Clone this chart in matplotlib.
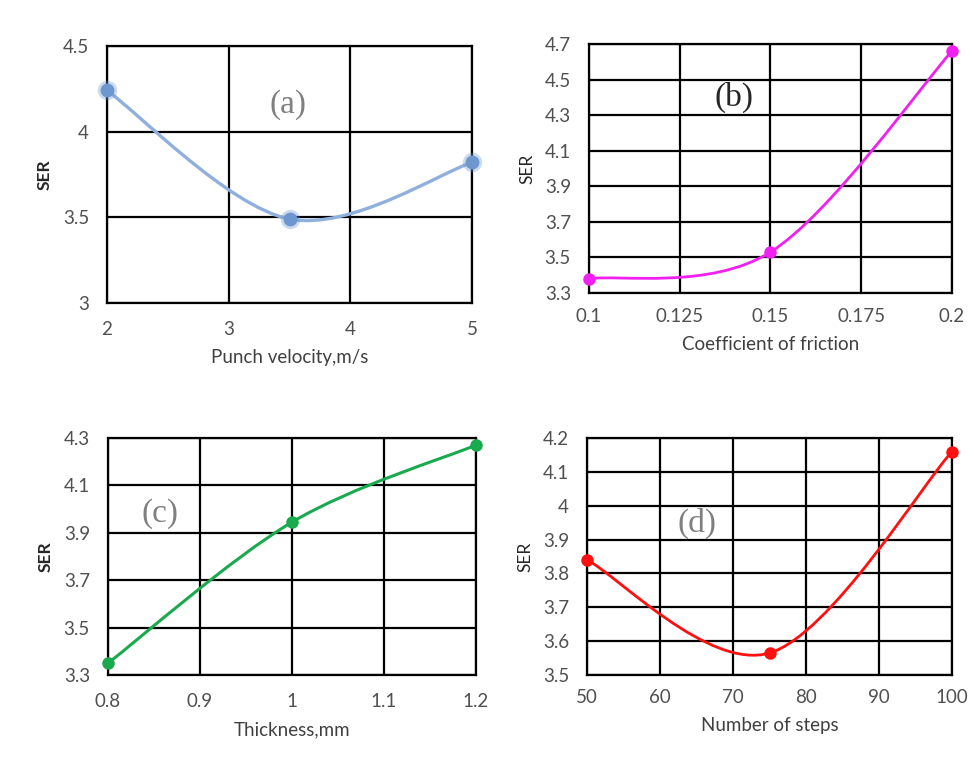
import matplotlib
matplotlib.use("Agg")
import matplotlib.pyplot as plt
from matplotlib.path import Path
from matplotlib.patches import PathPatch
import numpy as np

# ---- data ----
velocity = [2, 3.5, 5]
ser_velocity = [4.24, 3.49, 3.82]

friction = [0.1, 0.15, 0.2]
ser_friction = [3.38, 3.53, 4.66]

thickness = [0.8, 1.0, 1.2]
ser_thickness = [3.35, 3.945, 4.27]

steps = [50, 75, 100]
ser_steps = [3.84, 3.565, 4.16]

plt.rcParams["font.family"] = ["Lato", "DejaVu Sans"]

TICK_COLOR = "#505050"


def smooth_path(xs, ys):
    """Catmull-Rom style cubic Bezier through the points (spreadsheet 'smoothed line')."""
    pts = np.column_stack([xs, ys]).astype(float)
    n = len(pts)
    verts = [pts[0]]
    codes = [Path.MOVETO]
    for i in range(n - 1):
        p_prev = pts[i - 1] if i > 0 else pts[i]
        p0, p1 = pts[i], pts[i + 1]
        p_next = pts[i + 2] if i + 2 < n else pts[i + 1]
        c1 = p0 + (p1 - p_prev) / 6.0
        c2 = p1 - (p_next - p0) / 6.0
        verts += [c1, c2, p1]
        codes += [Path.CURVE4] * 3
    return Path(verts, codes)


def panel(rect, xs, ys, xlim, xticks, xticklabels, ylim, yticks, yticklabels,
          xlabel, tag, tag_xy, tag_color, color, lw, ms, marker_color,
          ylabel_bold=True, halo=False, xpad=10, xlabelpad=8):
    ax = fig.add_axes(rect)
    ax.set_xlim(*xlim)
    ax.set_ylim(*ylim)
    ax.set_xticks(xticks)
    ax.set_xticklabels(xticklabels)
    ax.set_yticks(yticks)
    ax.set_yticklabels(yticklabels)
    ax.grid(True, color="black", linewidth=1.6)
    ax.set_axisbelow(True)
    for s in ax.spines.values():
        s.set_color("black")
        s.set_linewidth(1.6)
    ax.tick_params(length=0, labelsize=13.5, colors=TICK_COLOR, pad=xpad)
    ax.tick_params(axis="y", pad=13)
    ax.add_patch(PathPatch(smooth_path(xs, ys), facecolor="none",
                           edgecolor=color, linewidth=lw, zorder=3,
                           capstyle="round", joinstyle="round"))
    if halo:
        ax.plot(xs, ys, "o", ms=ms + 4, color=marker_color, alpha=0.35,
                mec="none", zorder=4, clip_on=False)
    ax.plot(xs, ys, "o", ms=ms, color=marker_color, mec="none", zorder=5,
            clip_on=False)
    ax.set_xlabel(xlabel, fontsize=13.5, color="#404040", labelpad=xlabelpad)
    ax.set_ylabel("SER", fontsize=12.5, color="#262626",
                  fontweight="bold" if ylabel_bold else "normal", labelpad=7)
    ax.text(tag_xy[0], tag_xy[1], tag, transform=ax.transAxes,
            fontsize=24, color=tag_color, ha="center", va="center",
            family=["Liberation Serif", "DejaVu Serif"])
    return ax


fig = plt.figure(figsize=(9.74, 7.62), dpi=100)

panel([0.1099, 0.6024, 0.3747, 0.3373], velocity, ser_velocity,
      (2, 5), [2, 3, 4, 5], ["2", "3", "4", "5"],
      (3, 4.5), [3, 3.5, 4, 4.5], ["3", "3.5", "4", "4.5"],
      "Punch velocity,m/s", "(a)", (0.495, 0.77), "#808080",
      "#8FB0DC", 2.4, 10, "#6F97CF", halo=True, xpad=13)

panel([0.6047, 0.6155, 0.3727, 0.3268], friction, ser_friction,
      (0.1, 0.2), [0.1, 0.125, 0.15, 0.175, 0.2],
      ["0.1", "0.125", "0.15", "0.175", "0.2"],
      (3.3, 4.7), np.arange(3.3, 4.71, 0.2),
      ["3.3", "3.5", "3.7", "3.9", "4.1", "4.3", "4.5", "4.7"],
      "Coefficient of friction", "(b)", (0.4, 0.785), "#262626",
      "#F020F0", 2.0, 9, "#F020F0", ylabel_bold=False, xpad=11)

panel([0.1109, 0.1142, 0.3778, 0.3110], thickness, ser_thickness,
      (0.8, 1.2), [0.8, 0.9, 1.0, 1.1, 1.2], ["0.8", "0.9", "1", "1.1", "1.2"],
      (3.3, 4.3), np.arange(3.3, 4.31, 0.2),
      ["3.3", "3.5", "3.7", "3.9", "4.1", "4.3"],
      "Thickness,mm", "(c)", (0.14, 0.68), "#808080",
      "#1AAA4E", 2.2, 9, "#1AAA4E", xpad=13)

panel([0.6027, 0.1142, 0.3747, 0.3110], steps, ser_steps,
      (50, 100), [50, 60, 70, 80, 90, 100],
      ["50", "60", "70", "80", "90", "100"],
      (3.5, 4.2), np.arange(3.5, 4.21, 0.1),
      ["3.5", "3.6", "3.7", "3.8", "3.9", "4", "4.1", "4.2"],
      "Number of steps", "(d)", (0.30, 0.64), "#808080",
      "#FF1010", 2.0, 9, "#FF1010", ylabel_bold=False, xpad=10)

fig.savefig("out.png", dpi=100, facecolor="white")
